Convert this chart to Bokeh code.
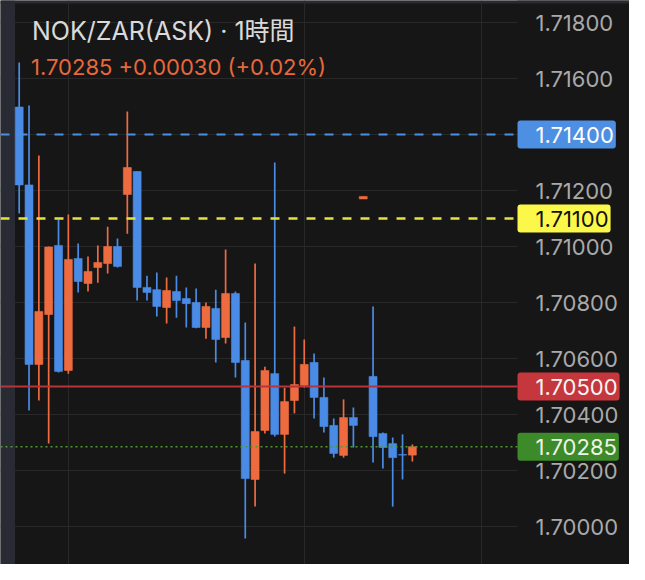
from bokeh.plotting import figure
from bokeh.models import ColumnDataSource, Range1d, FixedTicker, PrintfTickFormatter, Label, BoxAnnotation
from bokeh.embed import file_html
from bokeh.resources import INLINE

# ---- data (1h candles, NOK/ZAR ask) ----
opens = [1.71498, 1.71220, 1.70579, 1.70757, 1.71004, 1.70557, 1.70957, 1.70868, 1.70925, 1.70939,
         1.71000, 1.71186, 1.71268, 1.70854, 1.70846, 1.70782, 1.70839, 1.70814, 1.70800, 1.70711,
         1.70779, 1.70675, 1.70832, 1.70593, 1.70168, 1.70343, 1.70546, 1.70329, 1.70450, 1.70504,
         1.70586, 1.70461, 1.70361, 1.70254, 1.70389, 1.71170, 1.70536, 1.70332, 1.70296, 1.70257,
         1.70255]
highs = [1.71657, 1.71504, 1.71325, 1.71000, 1.71096, 1.71114, 1.71011, 1.70964, 1.71004, 1.71071,
         1.71029, 1.71482, 1.71268, 1.70896, 1.70907, 1.70889, 1.70896, 1.70854, 1.70850, 1.70800,
         1.70846, 1.70989, 1.70839, 1.70729, 1.70939, 1.70571, 1.71300, 1.70496, 1.70714, 1.70668,
         1.70618, 1.70532, 1.70386, 1.70454, 1.70425, 1.71179, 1.70786, 1.70336, 1.70318, 1.70329,
         1.70293]
lows = [1.71118, 1.70414, 1.70450, 1.70296, 1.70550, 1.70546, 1.70836, 1.70839, 1.70871, 1.70904,
        1.70925, 1.71046, 1.70807, 1.70807, 1.70750, 1.70725, 1.70746, 1.70711, 1.70708, 1.70671,
        1.70586, 1.70654, 1.70532, 1.69957, 1.70071, 1.70332, 1.70321, 1.70189, 1.70404, 1.70496,
        1.70386, 1.70336, 1.70246, 1.70246, 1.70282, 1.71170, 1.70229, 1.70207, 1.70071, 1.70168,
        1.70232]
closes = [1.71220, 1.70579, 1.70768, 1.70998, 1.70554, 1.70954, 1.70875, 1.70911, 1.70943, 1.71000,
          1.70929, 1.71282, 1.70854, 1.70836, 1.70786, 1.70843, 1.70807, 1.70796, 1.70711, 1.70786,
          1.70668, 1.70832, 1.70586, 1.70171, 1.70339, 1.70557, 1.70329, 1.70446, 1.70507, 1.70579,
          1.70461, 1.70357, 1.70261, 1.70389, 1.70361, 1.71179, 1.70321, 1.70282, 1.70246, 1.70255,
          1.70285]

price_ticks = [1.698, 1.700, 1.702, 1.704, 1.706, 1.708, 1.710, 1.712, 1.714, 1.716, 1.718]
time_grid = [5, 29, 47]
level_prices = [1.714, 1.711, 1.705]
last_price = 1.70285
title_text = "NOK/ZAR(ASK) · 1時間"
sub_text = "1.70285 +0.00030 (+0.02%)"

# ---- styles ----
BG = "#161616"
UP = "#ee6b40"
DOWN = "#4a8be6"
FONT = "Inter"
AXIS_FS = "22px"
X0, X1, AXIS_X = -1.902, 62.09, 50.69   # x range and price-scale edge (index units)

idx = list(range(len(opens)))
cols = [UP if c >= o else DOWN for o, c in zip(opens, closes)]
src = ColumnDataSource(dict(
    x=idx, high=highs, low=lows,
    top=[max(o, c) for o, c in zip(opens, closes)],
    bottom=[min(o, c) for o, c in zip(opens, closes)],
    color=cols,
))

p = figure(width=629, height=564, output_backend="svg", toolbar_location=None,
           x_range=Range1d(X0, X1), y_range=Range1d(1.698643, 1.718786),
           y_axis_location="right", min_border=0,
           background_fill_color=BG, border_fill_color=BG, outline_line_color=None)

p.xaxis.visible = False
p.xgrid.ticker = FixedTicker(ticks=time_grid)
p.xgrid.grid_line_color = "#282828"
p.ygrid.ticker = FixedTicker(ticks=price_ticks)
p.ygrid.grid_line_color = "#282828"

ya = p.yaxis[0]
ya.fixed_location = AXIS_X
ya.ticker = FixedTicker(ticks=price_ticks)
ya.formatter = PrintfTickFormatter(format="%.5f")
ya.axis_line_color = None
ya.major_tick_line_color = None
ya.minor_tick_line_color = None
ya.major_tick_out = 0
ya.major_tick_in = 0
ya.major_label_standoff = 18
ya.major_label_text_font = FONT
ya.major_label_text_font_size = AXIS_FS
ya.major_label_text_color = "#a9a9a9"

# price-scale area (hides grid there), app chrome strips
p.add_layout(BoxAnnotation(left=AXIS_X, fill_color=BG, fill_alpha=1, line_color=None, level="underlay"))
p.add_layout(BoxAnnotation(left=0, right=14.5, left_units="screen", right_units="screen",
                           fill_color="#292b34", fill_alpha=1, line_color=None, level="underlay"))
p.add_layout(BoxAnnotation(bottom=1.71868, fill_color="#292b32", fill_alpha=1,
                           line_color=None, level="underlay"))

p.segment(x0="x", y0="low", x1="x", y1="high", source=src, line_color="color", line_width=1.7)
p.vbar(x="x", width=0.81, top="top", bottom="bottom", source=src,
       fill_color="color", line_color="color", line_width=0.6)

# level lines (drawn over candles, ending at the price scale)
line_specs = [
    (level_prices[0], "#4c8ee6", 2, "9 9"),
    (level_prices[1], "#e6e23c", 2.5, "9 9"),
    (level_prices[2], "#b8333a", 2, "solid"),
    (last_price, "#4f9a2e", 1.5, "2 3"),
]
for price, color, lw, dash in line_specs:
    p.segment(x0=[X0], y0=[price], x1=[AXIS_X], y1=[price], line_color=color,
              line_width=lw, line_dash=dash)

box_specs = [
    (level_prices[0], "#4d8fe3", "#ffffff"),
    (level_prices[1], "#fbf84a", "#111111"),
    (level_prices[2], "#c6363d", "#f6f6f6"),
    (last_price, "#3c8a29", "#eef4e8"),
]
for price, bg, fg in box_specs:
    p.add_layout(Label(x=517, x_units="screen", y=price, text=f"{price:.5f}",
                       text_font=FONT, text_font_size=AXIS_FS, text_color=fg,
                       text_align="left", text_baseline="middle",
                       background_fill_color=bg, background_fill_alpha=1,
                       border_radius=3, padding=dict(left=18, right=2, top=6, bottom=6)))

p.add_layout(Label(x=31.5, x_units="screen", y=1.71768, text=title_text,
                   text_font="Inter, Noto Sans CJK JP", text_font_size="25px",
                   text_color="#dadada", text_align="left", text_baseline="middle"))
p.add_layout(Label(x=30.5, x_units="screen", y=1.716411, text=sub_text,
                   text_font=FONT, text_font_size="22px",
                   text_color="#e8683c", text_align="left", text_baseline="middle"))

open("out.html", "w").write(file_html(p, INLINE))
